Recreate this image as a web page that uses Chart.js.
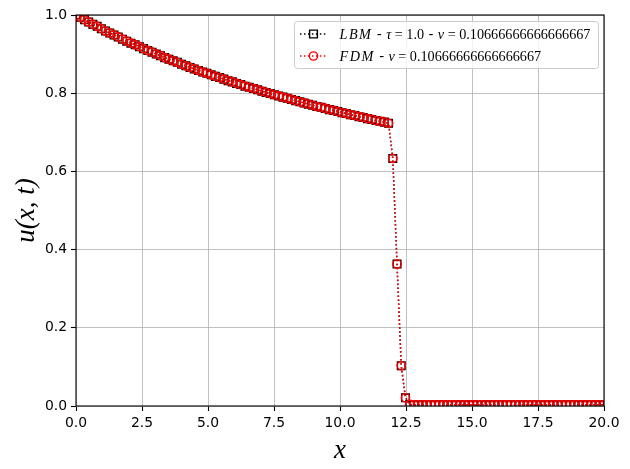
<!DOCTYPE html>
<html><head><meta charset="utf-8">
<script src="https://cdn.jsdelivr.net/npm/chart.js@4"></script>
<style>html,body{margin:0;padding:0;background:#fff;}#wrap{width:630px;height:469px;position:relative;}</style>
</head><body><div id="wrap"><canvas id="c" width="630" height="469"></canvas></div>
<script>
const xValues = [0,0.16,0.32,0.48,0.64,0.8,0.96,1.12,1.28,1.44,1.6,1.76,1.92,2.08,2.24,2.4,2.56,2.72,2.88,3.04,
3.2,3.36,3.52,3.68,3.84,4,4.16,4.32,4.48,4.64,4.8,4.96,5.12,5.28,5.44,5.6,5.76,5.92,6.08,6.24,
6.4,6.56,6.72,6.88,7.04,7.2,7.36,7.52,7.68,7.84,8,8.16,8.32,8.48,8.64,8.8,8.96,9.12,9.28,9.44,
9.6,9.76,9.92,10.08,10.24,10.4,10.56,10.72,10.88,11.04,11.2,11.36,11.52,11.68,11.84,12,12.16,12.32,12.48,12.64,
12.8,12.96,13.12,13.28,13.44,13.6,13.76,13.92,14.08,14.24,14.4,14.56,14.72,14.88,15.04,15.2,15.36,15.52,15.68,15.84,
16,16.16,16.32,16.48,16.64,16.8,16.96,17.12,17.28,17.44,17.6,17.76,17.92,18.08,18.24,18.4,18.56,18.72,18.88,19.04,
19.2,19.36,19.52,19.68,19.84,20];

const lbmU = [1.000,0.994,0.988,0.982,0.976,0.971,0.965,0.959,0.954,0.949,
0.944,0.938,0.933,0.928,0.924,0.919,0.914,0.909,0.905,0.900,
0.896,0.891,0.887,0.883,0.879,0.874,0.870,0.866,0.862,0.858,
0.854,0.851,0.847,0.843,0.840,0.836,0.832,0.829,0.825,0.822,
0.818,0.815,0.812,0.809,0.805,0.802,0.799,0.796,0.793,0.790,
0.787,0.784,0.781,0.778,0.775,0.772,0.769,0.766,0.764,0.761,
0.758,0.756,0.753,0.750,0.748,0.745,0.743,0.740,0.738,0.735,
0.733,0.730,0.728,0.726,0.723,0.633,0.363,0.103,0.021,0.004,
0.003,0.003,0.003,0.003,0.003,0.003,0.003,0.003,0.003,0.003,
0.003,0.003,0.003,0.003,0.003,0.003,0.003,0.003,0.003,0.003,
0.003,0.003,0.003,0.003,0.003,0.003,0.003,0.003,0.003,0.003,
0.003,0.003,0.003,0.003,0.003,0.003,0.003,0.003,0.003,0.003,
0.003,0.003,0.003,0.003,0.003,0.003];

const fdmU = [1.000,0.994,0.988,0.982,0.976,0.971,0.965,0.959,0.954,0.949,
0.944,0.938,0.933,0.928,0.924,0.919,0.914,0.909,0.905,0.900,
0.896,0.891,0.887,0.883,0.879,0.874,0.870,0.866,0.862,0.858,
0.854,0.851,0.847,0.843,0.840,0.836,0.832,0.829,0.825,0.822,
0.818,0.815,0.812,0.809,0.805,0.802,0.799,0.796,0.793,0.790,
0.787,0.784,0.781,0.778,0.775,0.772,0.769,0.766,0.764,0.761,
0.758,0.756,0.753,0.750,0.748,0.745,0.743,0.740,0.738,0.735,
0.733,0.730,0.728,0.726,0.723,0.633,0.363,0.103,0.021,0.004,
0.003,0.003,0.003,0.003,0.003,0.003,0.003,0.003,0.003,0.003,
0.003,0.003,0.003,0.003,0.003,0.003,0.003,0.003,0.003,0.003,
0.003,0.003,0.003,0.003,0.003,0.003,0.003,0.003,0.003,0.003,
0.003,0.003,0.003,0.003,0.003,0.003,0.003,0.003,0.003,0.003,
0.003,0.003,0.003,0.003,0.003,0.003];

const xTicks = [0,2.5,5,7.5,10,12.5,15,17.5,20];
const xTickLabels = ['0.0','2.5','5.0','7.5','10.0','12.5','15.0','17.5','20.0'];
const yTicks = [0,0.2,0.4,0.6,0.8,1.0];
const yTickLabels = ['0.0','0.2','0.4','0.6','0.8','1.0'];

// legend text pieces: [text, kind, gap before]  kind: 'i' math italic, 'r' math roman, 't' plain text
const legendRows = [
  {color:'#000000', marker:'rect', pieces:[['LBM','i',0],[' - ','t',0],['τ','i',0],['=','r',3.5],['1.0','r',3.5],[' - ','t',0],['ν','i',0],['=','r',3.5],['0.10666666666666667','r',3.5]]},
  {color:'#ff0000', marker:'circle', pieces:[['FDM','i',0],[' - ','t',0],['ν','i',0],['=','r',3.5],['0.10666666666666667','r',3.5]]}
];

const DOT = [1.5, 2.475];

const framePlugin = {
  id:'frame',
  afterDatasetsDraw(chart){
    const {ctx, chartArea:a} = chart;
    ctx.save();
    ctx.strokeStyle='#000'; ctx.lineWidth=1.1;
    ctx.strokeRect(a.left, a.top, a.right-a.left, a.bottom-a.top);
    ctx.restore();
  },
  afterDraw(chart){
    const ctx = chart.ctx;
    ctx.save();
    const bx=294.5, by=21.5, bw=304, bh=47;
    ctx.beginPath();
    ctx.roundRect(bx,by,bw,bh,3);
    ctx.fillStyle='rgba(255,255,255,0.8)'; ctx.fill();
    ctx.strokeStyle='#cccccc'; ctx.lineWidth=1; ctx.stroke();
    const rowsY=[34,56];
    legendRows.forEach((row,i)=>{
      const y=rowsY[i];
      ctx.save();
      ctx.strokeStyle=row.color; ctx.lineWidth=1.5; ctx.setLineDash(DOT);
      ctx.beginPath(); ctx.moveTo(300,y); ctx.lineTo(327,y); ctx.stroke();
      ctx.restore();
      ctx.strokeStyle=row.color; ctx.lineWidth=1.4;
      ctx.beginPath();
      if(row.marker==='rect'){ ctx.rect(313.5-3.9,y-3.9,7.8,7.8); }
      else { ctx.arc(313.5,y,4.15,0,Math.PI*2); }
      ctx.stroke();
      ctx.fillStyle='#000'; ctx.textBaseline='alphabetic'; ctx.textAlign='left';
      let x=339.5;
      row.pieces.forEach(([t,kind,gap])=>{
        x+=gap;
        if(kind==='i'){ ctx.font='italic 14.2px "Liberation Serif"'; ctx.letterSpacing = t.length>1 ? '1.5px' : '0px'; }
        else if(kind==='r'){ ctx.font='14.2px "Liberation Serif"'; ctx.letterSpacing='0px'; }
        else { ctx.font='13.9px "DejaVu Sans"'; ctx.letterSpacing='0px'; }
        ctx.fillText(t,x,y+5);
        x+=ctx.measureText(t).width;
      });
      ctx.letterSpacing='0px';
    });
    ctx.restore();
  }
};

const tickFont = {family:'"DejaVu Sans"', size:13.9};
new Chart(document.getElementById('c'), {
  type:'line',
  data:{datasets:[
    {label:'LBM', order:1, data:xValues.map((x,i)=>({x:x,y:lbmU[i]})), borderColor:'#000', borderWidth:1.5, borderDash:DOT,
     pointStyle:'rect', pointRadius:5.4, pointBorderColor:'#000', pointBackgroundColor:'rgba(0,0,0,0)', pointBorderWidth:1.4,
     fill:false, tension:0, clip:0},
    {label:'FDM', order:0, data:xValues.map((x,i)=>({x:x,y:fdmU[i]})), borderColor:'#ff0000', borderWidth:1.5, borderDash:DOT,
     pointStyle:'circle', pointRadius:4.15, pointBorderColor:'#ff0000', pointBackgroundColor:'rgba(0,0,0,0)', pointBorderWidth:1.4,
     fill:false, tension:0, clip:0}
  ]},
  options:{
    responsive:false, animation:false, events:[], devicePixelRatio:1,
    layout:{padding:{left:0,right:26,top:15,bottom:0}},
    plugins:{legend:{display:false}, tooltip:{enabled:false}},
    scales:{
      x:{type:'linear', min:0, max:20,
        afterBuildTicks:s=>{s.ticks=xTicks.map(v=>({value:v}));},
        afterFit:s=>{s.height=63;},
        ticks:{font:tickFont, color:'#000', padding:4, maxRotation:0, autoSkip:false,
          callback:(v,i)=>xTickLabels[i]},
        grid:{color:'#b0b0b0', lineWidth:0.8, tickColor:'#000', tickWidth:1.1, tickLength:5},
        border:{display:false},
        title:{display:true, text:'x', color:'#000', font:{family:'"Liberation Serif"', style:'italic', size:27, lineHeight:1}, padding:{top:0,bottom:5}}
      },
      y:{type:'linear', min:0, max:1,
        afterBuildTicks:s=>{s.ticks=yTicks.map(v=>({value:v}));},
        afterFit:s=>{s.width=76;},
        ticks:{font:tickFont, color:'#000', padding:4, autoSkip:false,
          callback:(v,i)=>yTickLabels[i]},
        grid:{color:'#b0b0b0', lineWidth:0.8, tickColor:'#000', tickWidth:1.1, tickLength:5},
        border:{display:false},
        title:{display:true, text:'u(x, t)', color:'#000', font:{family:'"Liberation Serif"', style:'italic', size:27, lineHeight:1}, padding:{top:13,bottom:0}}
      }
    }
  },
  plugins:[framePlugin]
});
</script></body></html>
